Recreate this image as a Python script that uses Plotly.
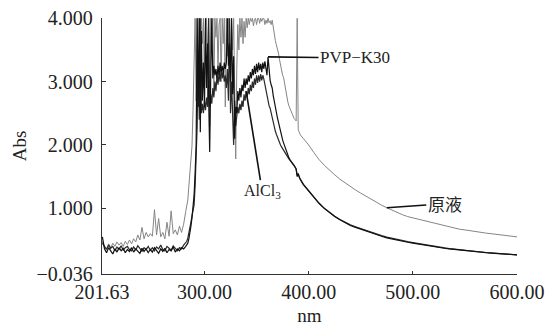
import plotly.graph_objects as go

# wavelength sampling grid (nm)
wavelength = list(range(202, 283, 2)) + list(range(283, 393)) + list(range(395, 601, 5))

# 原液 (stock solution) absorbance
yuanye_base = [0.48,0.40,0.36,0.44,0.38,0.45,0.40,0.47,0.42,0.46,
               0.40,0.48,0.43,0.50,0.44,0.52,0.47,0.58,0.50,0.70,
               0.52,0.62,0.55,0.60,0.56,0.98,0.58,0.84,0.55,0.62,
               0.52,0.78,0.56,0.96,0.60,0.66,0.58,0.72,0.62,0.75,
               0.95]
yuanye_peak = [1.05,1.13,1.35,1.55,1.78,1.98,2.55,3.30,4.00,2.70,
               4.00,3.10,4.00,2.50,4.00,3.60,4.00,2.90,4.00,4.00,
               3.30,4.00,2.30,4.00,3.50,4.00,2.80,4.00,3.70,4.00,
               3.20,3.90,4.00,3.00,4.00,3.60,4.00,2.60,4.00,3.40,
               4.00,3.80,2.90,4.00,3.50,4.00,2.40,1.78,3.20,3.90,
               3.50,4.00,3.70,4.00,3.60,3.95,3.70,4.00,3.85,4.00,
               3.90,4.00,3.95,4.00,3.88,3.98,4.00,3.90,4.00,4.00,
               3.92,4.00,3.95,4.00,4.00,3.90,3.97,3.92,4.00,3.93,
               3.96,3.90,3.97,3.85,3.75,3.65,3.58,3.52,3.45,3.35,
               3.25,3.18,3.10,3.06,2.95,2.85,2.76,2.68,2.62,2.58,
               2.52,2.48,2.45,2.42,2.40,2.38,4.00,2.24,2.20,2.16]
yuanye_tail = [2.10,2.00,1.88,1.77,1.68,1.60,1.53,1.46,1.40,1.34,
               1.29,1.24,1.19,1.14,1.10,1.05,1.01,0.97,0.94,0.90,
               0.87,0.85,0.83,0.80,0.78,0.76,0.74,0.72,0.70,0.685,
               0.67,0.66,0.645,0.63,0.62,0.61,0.60,0.59,0.58,0.565,
               0.555,0.55]

# PVP-K30 absorbance
pvp_base = [0.55,0.36,0.30,0.38,0.33,0.28,0.36,0.31,0.38,0.33,
            0.37,0.30,0.35,0.32,0.38,0.31,0.36,0.33,0.29,0.37,
            0.32,0.36,0.30,0.35,0.31,0.38,0.33,0.29,0.36,0.32,
            0.37,0.30,0.35,0.33,0.39,0.31,0.36,0.33,0.38,0.36,
            0.40]
pvp_peak = [0.42,0.45,0.52,0.60,0.72,0.85,1.00,1.20,1.55,2.00,
            4.00,2.60,4.00,2.20,3.80,2.70,3.30,2.60,4.00,2.90,
            3.60,2.75,1.89,3.10,4.00,3.05,3.25,3.10,3.20,3.05,
            3.25,3.10,3.30,3.15,3.25,3.12,3.30,3.20,3.30,4.00,
            3.25,3.60,3.00,4.00,2.80,3.40,2.10,2.60,2.50,2.85,
            2.70,2.90,2.75,2.95,2.85,3.05,2.90,3.05,2.95,3.10,
            3.00,3.15,3.05,3.20,3.10,3.25,3.12,3.28,3.15,3.30,
            3.18,3.28,3.15,3.30,3.20,3.32,3.22,3.10,3.39,3.15,
            3.02,2.95,2.90,2.78,2.68,2.58,2.50,2.43,2.36,2.28,
            2.20,2.14,2.08,2.03,1.98,1.94,1.90,1.85,1.80,1.77,
            1.74,1.72,1.70,1.68,1.65,1.62,1.50,1.55,1.49,1.46]
pvp_tail = [1.38,1.28,1.18,1.08,1.00,0.93,0.87,0.82,0.77,0.73,
            0.70,0.67,0.64,0.61,0.58,0.56,0.535,0.515,0.50,0.48,
            0.465,0.45,0.435,0.42,0.41,0.395,0.385,0.37,0.36,0.35,
            0.34,0.33,0.325,0.315,0.31,0.30,0.295,0.29,0.28,0.275,
            0.27,0.265]

# AlCl3 absorbance
alcl3_base = [0.45,0.40,0.35,0.42,0.37,0.40,0.33,0.39,0.35,0.41,
              0.34,0.38,0.40,0.35,0.33,0.39,0.34,0.41,0.36,0.32,
              0.38,0.35,0.40,0.34,0.38,0.33,0.39,0.36,0.42,0.35,
              0.33,0.40,0.37,0.34,0.41,0.36,0.33,0.38,0.36,0.42,
              0.46]
alcl3_peak = [0.48,0.53,0.60,0.68,0.78,0.88,0.96,1.05,1.35,1.70,
              2.30,3.50,2.40,4.00,2.50,2.65,2.50,2.70,2.55,2.75,
              2.60,4.00,2.60,2.80,2.65,2.90,2.75,3.00,2.85,3.10,
              2.95,3.15,3.00,3.20,3.05,3.15,3.00,3.10,2.90,3.20,
              2.70,4.00,2.50,3.00,2.30,2.00,2.70,2.30,2.45,2.60,
              2.50,2.65,2.55,2.70,2.60,2.80,2.70,2.85,2.75,2.90,
              2.80,2.95,2.85,3.00,2.90,3.05,2.95,3.10,2.98,3.10,
              3.00,3.12,3.02,3.10,3.04,2.95,2.88,2.78,2.70,2.62,
              2.58,2.50,2.42,2.35,2.28,2.22,2.17,2.12,2.08,2.04,
              2.00,1.97,1.94,1.91,1.88,1.85,1.83,1.80,1.78,1.76,
              1.74,1.72,1.70,1.68,1.65,1.62,1.52,1.54,1.48,1.45]
alcl3_tail = [1.37,1.27,1.17,1.08,1.00,0.935,0.875,0.825,0.78,0.74,
              0.71,0.68,0.65,0.62,0.59,0.57,0.545,0.525,0.51,0.49,
              0.475,0.46,0.445,0.43,0.415,0.40,0.39,0.375,0.365,0.355,
              0.345,0.335,0.33,0.32,0.312,0.303,0.297,0.29,0.283,0.277,
              0.271,0.266]

yuanye = yuanye_base + yuanye_peak + yuanye_tail
pvp = pvp_base + pvp_peak + pvp_tail
alcl3 = alcl3_base + alcl3_peak + alcl3_tail

x_ticks = [201.63, 300, 400, 500, 600]
x_ticktext = ["201.63", "300.00", "400.00", "500.00", "600.00"]
y_ticks = [-0.036, 1, 2, 3, 4]
y_ticktext = ["\u22120.036", "1.000", "2.000", "3.000", "4.000"]

SERIF = "Liberation Serif"

fig = go.Figure()
fig.add_trace(go.Scatter(x=wavelength, y=yuanye, mode="lines", name="原液",
                         line=dict(color="#858585", width=1)))
fig.add_trace(go.Scatter(x=wavelength, y=alcl3, mode="lines", name="AlCl3",
                         line=dict(color="#2a2a2a", width=1.2)))
fig.add_trace(go.Scatter(x=wavelength, y=pvp, mode="lines", name="PVP-K30",
                         line=dict(color="#111111", width=1.2)))

def val_at(series, nm):
    return series[wavelength.index(nm)]

annos = [
    dict(x=361, y=val_at(pvp, 361), text="PVP\u2212K30", ax=87, ay=1,
         font=dict(family=SERIF, size=17, color="#222")),
    dict(x=340, y=val_at(alcl3, 340), text="AlCl<sub>3</sub>", ax=16, ay=100,
         font=dict(family=SERIF, size=16, color="#222")),
    dict(x=475, y=val_at(yuanye, 475), text="原液", ax=58, ay=-4,
         font=dict(family="Noto Sans CJK SC", size=17, color="#222")),
]
for a in annos:
    a.update(showarrow=True, arrowhead=0, arrowwidth=1.6, arrowcolor="#111",
             xref="x", yref="y", axref="pixel", ayref="pixel")
fig.update_layout(annotations=annos)

# the page body adds an 8px offset, so the figure is sized 552x324
fig.update_layout(
    width=552, height=324,
    margin=dict(l=94, r=43, t=10, b=58),
    paper_bgcolor="white", plot_bgcolor="white",
    showlegend=False,
    font=dict(family=SERIF, size=20, color="#222"),
    xaxis=dict(range=[201.63, 600], tickvals=x_ticks, ticktext=x_ticktext,
               showline=True, linecolor="#333", linewidth=1.3,
               ticks="inside", ticklen=3, tickcolor="#333",
               showgrid=False, zeroline=False, automargin=False,
               ticklabeloverflow="allow",
               tickfont=dict(family=SERIF, size=20),
               title=dict(text="nm", font=dict(family=SERIF, size=19), standoff=6)),
    yaxis=dict(range=[-0.036, 4.004], tickvals=y_ticks, ticktext=y_ticktext,
               showline=True, linecolor="#333", linewidth=1.3,
               ticks="inside", ticklen=4, tickcolor="#333",
               showgrid=False, zeroline=False, ticklabelstandoff=4, automargin=False,
               ticklabeloverflow="allow",
               tickfont=dict(family=SERIF, size=20),
               title=dict(text="Abs", font=dict(family=SERIF, size=19), standoff=4)),
)

fig.write_html("out.html")
